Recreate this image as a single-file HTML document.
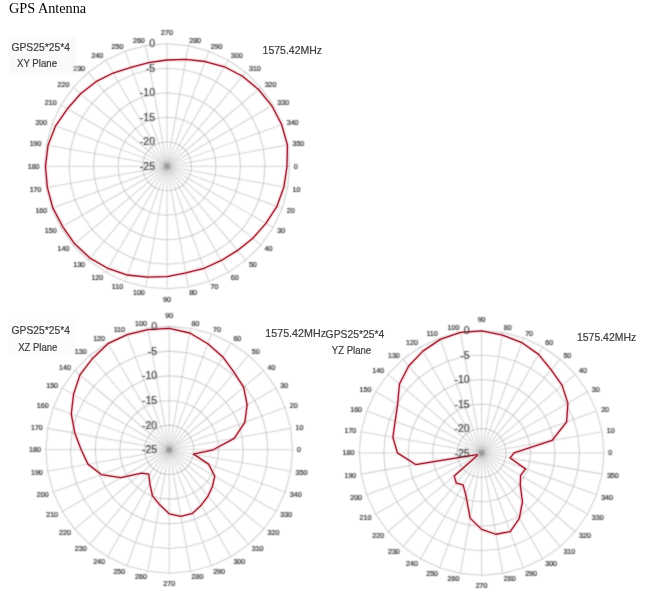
<!DOCTYPE html>
<html><head><meta charset="utf-8"><title>GPS Antenna</title>
<style>
html,body{margin:0;padding:0;background:#fff;}
body{width:659px;height:592px;overflow:hidden;position:relative;}
svg{position:absolute;left:0;top:0;}
.sp{stroke:#000;stroke-opacity:0.18;stroke-width:1.05;fill:none;}
.cl{font-family:"Liberation Sans",sans-serif;font-size:7.1px;fill:#141414;text-anchor:middle;stroke:#141414;stroke-width:0.15;}
.vl{font-family:"Liberation Sans",sans-serif;font-size:10.5px;fill:#383838;text-anchor:end;stroke:#383838;stroke-width:0.15;}
.tt{font-family:"Liberation Sans",sans-serif;font-size:10.4px;fill:#3c3c3c;stroke:#3c3c3c;stroke-width:0.2;}
.title{font-family:"Liberation Serif",serif;font-size:14px;fill:#000;}
</style></head><body>
<svg width="659" height="592" viewBox="0 0 659 592">
<defs><radialGradient id="cg"><stop offset="0" stop-color="#7a7a7a"/><stop offset="0.45" stop-color="#9a9a9a" stop-opacity="0.8"/><stop offset="1" stop-color="#c0c0c0" stop-opacity="0"/></radialGradient><filter id="bl" filterUnits="userSpaceOnUse" x="0" y="0" width="659" height="592"><feConvolveMatrix order="3" kernelMatrix="1 3 1 3 9 3 1 3 1" divisor="25" edgeMode="none" preserveAlpha="false"/></filter></defs>
<text x="9.0" y="13.1" textLength="77.2" lengthAdjust="spacingAndGlyphs" class="title">GPS Antenna</text>
<g filter="url(#bl)">
<rect x="9" y="37" width="67" height="38" fill="#fafafa"/>
<rect x="9" y="319" width="67" height="36" fill="#fcfcfc"/>
<polygon points="191.50,166.30 191.13,170.55 190.02,174.68 188.22,178.55 185.77,182.05 182.75,185.07 179.25,187.52 175.38,189.32 171.25,190.43 167.00,190.80 162.75,190.43 158.62,189.32 154.75,187.52 151.25,185.07 148.23,182.05 145.78,178.55 143.98,174.68 142.87,170.55 142.50,166.30 142.87,162.05 143.98,157.92 145.78,154.05 148.23,150.55 151.25,147.53 154.75,145.08 158.62,143.28 162.75,142.17 167.00,141.80 171.25,142.17 175.38,143.28 179.25,145.08 182.75,147.53 185.77,150.55 188.22,154.05 190.02,157.92 191.13,162.05" fill="none" stroke="#d0d0d0" stroke-width="1.1"/>
<polygon points="216.00,166.30 215.26,174.81 213.04,183.06 209.44,190.80 204.54,197.80 198.50,203.84 191.50,208.74 183.76,212.34 175.51,214.56 167.00,215.30 158.49,214.56 150.24,212.34 142.50,208.74 135.50,203.84 129.46,197.80 124.56,190.80 120.96,183.06 118.74,174.81 118.00,166.30 118.74,157.79 120.96,149.54 124.56,141.80 129.46,134.80 135.50,128.76 142.50,123.86 150.24,120.26 158.49,118.04 167.00,117.30 175.51,118.04 183.76,120.26 191.50,123.86 198.50,128.76 204.54,134.80 209.44,141.80 213.04,149.54 215.26,157.79" fill="none" stroke="#d0d0d0" stroke-width="1.1"/>
<polygon points="240.50,166.30 239.38,179.06 236.07,191.44 230.65,203.05 223.30,213.54 214.24,222.60 203.75,229.95 192.14,235.37 179.76,238.68 167.00,239.80 154.24,238.68 141.86,235.37 130.25,229.95 119.76,222.60 110.70,213.54 103.35,203.05 97.93,191.44 94.62,179.06 93.50,166.30 94.62,153.54 97.93,141.16 103.35,129.55 110.70,119.06 119.76,110.00 130.25,102.65 141.86,97.23 154.24,93.92 167.00,92.80 179.76,93.92 192.14,97.23 203.75,102.65 214.24,110.00 223.30,119.06 230.65,129.55 236.07,141.16 239.38,153.54" fill="none" stroke="#d0d0d0" stroke-width="1.1"/>
<polygon points="265.00,166.30 263.51,183.32 259.09,199.82 251.87,215.30 242.07,229.29 229.99,241.37 216.00,251.17 200.52,258.39 184.02,262.81 167.00,264.30 149.98,262.81 133.48,258.39 118.00,251.17 104.01,241.37 91.93,229.29 82.13,215.30 74.91,199.82 70.49,183.32 69.00,166.30 70.49,149.28 74.91,132.78 82.13,117.30 91.93,103.31 104.01,91.23 118.00,81.43 133.48,74.21 149.98,69.79 167.00,68.30 184.02,69.79 200.52,74.21 216.00,81.43 229.99,91.23 242.07,103.31 251.87,117.30 259.09,132.78 263.51,149.28" fill="none" stroke="#d0d0d0" stroke-width="1.1"/>
<polygon points="289.50,166.30 287.64,187.57 282.11,208.20 273.09,227.55 260.84,245.04 245.74,260.14 228.25,272.39 208.90,281.41 188.27,286.94 167.00,288.80 145.73,286.94 125.10,281.41 105.75,272.39 88.26,260.14 73.16,245.04 60.91,227.55 51.89,208.20 46.36,187.57 44.50,166.30 46.36,145.03 51.89,124.40 60.91,105.05 73.16,87.56 88.26,72.46 105.75,60.21 125.10,51.19 145.73,45.66 167.00,43.80 188.27,45.66 208.90,51.19 228.25,60.21 245.74,72.46 260.84,87.56 273.09,105.05 282.11,124.40 287.64,145.03" fill="none" stroke="#d0d0d0" stroke-width="1.1"/>
<path d="M169.00 166.30L289.50 166.30" class="sp"/>
<path d="M168.97 166.65L287.64 187.57" class="sp"/>
<path d="M168.88 166.98L282.11 208.20" class="sp"/>
<path d="M168.73 167.30L273.09 227.55" class="sp"/>
<path d="M168.53 167.59L260.84 245.04" class="sp"/>
<path d="M168.29 167.83L245.74 260.14" class="sp"/>
<path d="M168.00 168.03L228.25 272.39" class="sp"/>
<path d="M167.68 168.18L208.90 281.41" class="sp"/>
<path d="M167.35 168.27L188.27 286.94" class="sp"/>
<path d="M167.00 168.30L167.00 288.80" class="sp"/>
<path d="M166.65 168.27L145.73 286.94" class="sp"/>
<path d="M166.32 168.18L125.10 281.41" class="sp"/>
<path d="M166.00 168.03L105.75 272.39" class="sp"/>
<path d="M165.71 167.83L88.26 260.14" class="sp"/>
<path d="M165.47 167.59L73.16 245.04" class="sp"/>
<path d="M165.27 167.30L60.91 227.55" class="sp"/>
<path d="M165.12 166.98L51.89 208.20" class="sp"/>
<path d="M165.03 166.65L46.36 187.57" class="sp"/>
<path d="M165.00 166.30L44.50 166.30" class="sp"/>
<path d="M165.03 165.95L46.36 145.03" class="sp"/>
<path d="M165.12 165.62L51.89 124.40" class="sp"/>
<path d="M165.27 165.30L60.91 105.05" class="sp"/>
<path d="M165.47 165.01L73.16 87.56" class="sp"/>
<path d="M165.71 164.77L88.26 72.46" class="sp"/>
<path d="M166.00 164.57L105.75 60.21" class="sp"/>
<path d="M166.32 164.42L125.10 51.19" class="sp"/>
<path d="M166.65 164.33L145.73 45.66" class="sp"/>
<path d="M167.00 164.30L167.00 43.80" class="sp"/>
<path d="M167.35 164.33L188.27 45.66" class="sp"/>
<path d="M167.68 164.42L208.90 51.19" class="sp"/>
<path d="M168.00 164.57L228.25 60.21" class="sp"/>
<path d="M168.29 164.77L245.74 72.46" class="sp"/>
<path d="M168.53 165.01L260.84 87.56" class="sp"/>
<path d="M168.73 165.30L273.09 105.05" class="sp"/>
<path d="M168.88 165.62L282.11 124.40" class="sp"/>
<path d="M168.97 165.95L287.64 145.03" class="sp"/>
<circle cx="167.00" cy="166.30" r="4.5" fill="url(#cg)"/>
<text x="295.85" y="168.55" class="cl">0</text>
<text x="296.42" y="191.66" class="cl">10</text>
<text x="290.67" y="213.11" class="cl">20</text>
<text x="281.29" y="233.23" class="cl">30</text>
<text x="268.56" y="251.41" class="cl">40</text>
<text x="252.86" y="267.11" class="cl">50</text>
<text x="234.68" y="279.84" class="cl">60</text>
<text x="214.56" y="289.22" class="cl">70</text>
<text x="193.11" y="294.97" class="cl">80</text>
<text x="167.00" y="302.00" class="cl">90</text>
<text x="138.89" y="294.97" class="cl">100</text>
<text x="117.44" y="289.22" class="cl">110</text>
<text x="97.33" y="279.84" class="cl">120</text>
<text x="79.14" y="267.11" class="cl">130</text>
<text x="63.44" y="251.41" class="cl">140</text>
<text x="50.71" y="233.23" class="cl">150</text>
<text x="41.33" y="213.11" class="cl">160</text>
<text x="35.58" y="191.66" class="cl">170</text>
<text x="33.65" y="168.55" class="cl">180</text>
<text x="35.58" y="146.44" class="cl">190</text>
<text x="41.33" y="124.99" class="cl">200</text>
<text x="50.71" y="104.88" class="cl">210</text>
<text x="63.44" y="86.69" class="cl">220</text>
<text x="79.14" y="70.99" class="cl">230</text>
<text x="97.32" y="58.26" class="cl">240</text>
<text x="117.44" y="48.88" class="cl">250</text>
<text x="138.89" y="43.13" class="cl">260</text>
<text x="167.00" y="35.10" class="cl">270</text>
<text x="195.11" y="43.13" class="cl">280</text>
<text x="216.56" y="48.88" class="cl">290</text>
<text x="236.68" y="58.26" class="cl">300</text>
<text x="254.86" y="70.99" class="cl">310</text>
<text x="270.56" y="86.69" class="cl">320</text>
<text x="283.29" y="104.87" class="cl">330</text>
<text x="292.67" y="124.99" class="cl">340</text>
<text x="298.42" y="146.44" class="cl">350</text>
<polygon points="287.00,166.30 283.90,186.91 276.94,206.32 265.90,223.40 252.80,238.29 237.58,250.41 221.35,260.44 204.11,268.26 185.81,272.95 167.00,276.60 147.46,277.09 127.43,275.02 108.00,268.49 89.99,258.07 74.69,243.76 62.64,226.55 52.83,207.86 47.35,187.40 45.50,166.30 48.04,145.32 55.65,125.77 67.41,108.80 80.59,93.79 95.97,81.65 113.15,73.03 131.02,67.44 148.71,62.60 167.00,60.00 185.84,59.45 205.14,61.52 224.45,66.79 242.53,76.29 258.54,89.49 271.79,105.80 281.64,124.57 287.44,145.06" fill="none" stroke="#ec8e9a" stroke-width="3.0" stroke-linejoin="round" opacity="0.55"/>
</g>
<polygon points="287.00,166.30 283.90,186.91 276.94,206.32 265.90,223.40 252.80,238.29 237.58,250.41 221.35,260.44 204.11,268.26 185.81,272.95 167.00,276.60 147.46,277.09 127.43,275.02 108.00,268.49 89.99,258.07 74.69,243.76 62.64,226.55 52.83,207.86 47.35,187.40 45.50,166.30 48.04,145.32 55.65,125.77 67.41,108.80 80.59,93.79 95.97,81.65 113.15,73.03 131.02,67.44 148.71,62.60 167.00,60.00 185.84,59.45 205.14,61.52 224.45,66.79 242.53,76.29 258.54,89.49 271.79,105.80 281.64,124.57 287.44,145.06" fill="none" stroke="#9c2636" stroke-width="1.3" stroke-linejoin="round"/>
<g filter="url(#bl)">
<text x="155.00" y="169.90" class="vl">-25</text>
<text x="155.00" y="145.40" class="vl">-20</text>
<text x="155.00" y="120.90" class="vl">-15</text>
<text x="155.00" y="96.40" class="vl">-10</text>
<text x="155.00" y="71.90" class="vl">-5</text>
<text x="155.00" y="47.40" class="vl">0</text>
<polygon points="193.88,449.80 193.51,445.51 192.39,441.36 190.57,437.46 188.11,433.94 185.06,430.89 181.54,428.43 177.64,426.61 173.49,425.49 169.20,425.12 164.91,425.49 160.76,426.61 156.86,428.43 153.34,430.89 150.29,433.94 147.83,437.46 146.01,441.36 144.89,445.51 144.52,449.80 144.89,454.09 146.01,458.24 147.83,462.14 150.29,465.66 153.34,468.71 156.86,471.17 160.76,472.99 164.91,474.11 169.20,474.48 173.49,474.11 177.64,472.99 181.54,471.17 185.06,468.71 188.11,465.66 190.57,462.14 192.39,458.24 193.51,454.09" fill="none" stroke="#d0d0d0" stroke-width="1.1"/>
<polygon points="218.56,449.80 217.81,441.23 215.58,432.92 211.95,425.12 207.01,418.07 200.93,411.99 193.88,407.05 186.08,403.42 177.77,401.19 169.20,400.44 160.63,401.19 152.32,403.42 144.52,407.05 137.47,411.99 131.39,418.07 126.45,425.12 122.82,432.92 120.59,441.23 119.84,449.80 120.59,458.37 122.82,466.68 126.45,474.48 131.39,481.53 137.47,487.61 144.52,492.55 152.32,496.18 160.63,498.41 169.20,499.16 177.77,498.41 186.08,496.18 193.88,492.55 200.93,487.61 207.01,481.53 211.95,474.48 215.58,466.68 217.81,458.37" fill="none" stroke="#d0d0d0" stroke-width="1.1"/>
<polygon points="243.24,449.80 242.12,436.94 238.77,424.48 233.32,412.78 225.92,402.21 216.79,393.08 206.22,385.68 194.52,380.23 182.06,376.88 169.20,375.76 156.34,376.88 143.88,380.23 132.18,385.68 121.61,393.08 112.48,402.21 105.08,412.78 99.63,424.48 96.28,436.94 95.16,449.80 96.28,462.66 99.63,475.12 105.08,486.82 112.48,497.39 121.61,506.52 132.18,513.92 143.88,519.37 156.34,522.72 169.20,523.84 182.06,522.72 194.52,519.37 206.22,513.92 216.79,506.52 225.92,497.39 233.32,486.82 238.77,475.12 242.12,462.66" fill="none" stroke="#d0d0d0" stroke-width="1.1"/>
<polygon points="267.92,449.80 266.42,432.66 261.97,416.04 254.69,400.44 244.82,386.34 232.66,374.18 218.56,364.31 202.96,357.03 186.34,352.58 169.20,351.08 152.06,352.58 135.44,357.03 119.84,364.31 105.74,374.18 93.58,386.34 83.71,400.44 76.43,416.04 71.98,432.66 70.48,449.80 71.98,466.94 76.43,483.56 83.71,499.16 93.58,513.26 105.74,525.42 119.84,535.29 135.44,542.57 152.06,547.02 169.20,548.52 186.34,547.02 202.96,542.57 218.56,535.29 232.66,525.42 244.82,513.26 254.69,499.16 261.97,483.56 266.42,466.94" fill="none" stroke="#d0d0d0" stroke-width="1.1"/>
<polygon points="292.60,449.80 290.73,428.37 285.16,407.59 276.07,388.10 263.73,370.48 248.52,355.27 230.90,342.93 211.41,333.84 190.63,328.27 169.20,326.40 147.77,328.27 126.99,333.84 107.50,342.93 89.88,355.27 74.67,370.48 62.33,388.10 53.24,407.59 47.67,428.37 45.80,449.80 47.67,471.23 53.24,492.01 62.33,511.50 74.67,529.12 89.88,544.33 107.50,556.67 126.99,565.76 147.77,571.33 169.20,573.20 190.63,571.33 211.41,565.76 230.90,556.67 248.52,544.33 263.73,529.12 276.07,511.50 285.16,492.01 290.73,471.23" fill="none" stroke="#d0d0d0" stroke-width="1.1"/>
<path d="M171.20 449.80L292.60 449.80" class="sp"/>
<path d="M171.17 449.45L290.73 428.37" class="sp"/>
<path d="M171.08 449.12L285.16 407.59" class="sp"/>
<path d="M170.93 448.80L276.07 388.10" class="sp"/>
<path d="M170.73 448.51L263.73 370.48" class="sp"/>
<path d="M170.49 448.27L248.52 355.27" class="sp"/>
<path d="M170.20 448.07L230.90 342.93" class="sp"/>
<path d="M169.88 447.92L211.41 333.84" class="sp"/>
<path d="M169.55 447.83L190.63 328.27" class="sp"/>
<path d="M169.20 447.80L169.20 326.40" class="sp"/>
<path d="M168.85 447.83L147.77 328.27" class="sp"/>
<path d="M168.52 447.92L126.99 333.84" class="sp"/>
<path d="M168.20 448.07L107.50 342.93" class="sp"/>
<path d="M167.91 448.27L89.88 355.27" class="sp"/>
<path d="M167.67 448.51L74.67 370.48" class="sp"/>
<path d="M167.47 448.80L62.33 388.10" class="sp"/>
<path d="M167.32 449.12L53.24 407.59" class="sp"/>
<path d="M167.23 449.45L47.67 428.37" class="sp"/>
<path d="M167.20 449.80L45.80 449.80" class="sp"/>
<path d="M167.23 450.15L47.67 471.23" class="sp"/>
<path d="M167.32 450.48L53.24 492.01" class="sp"/>
<path d="M167.47 450.80L62.33 511.50" class="sp"/>
<path d="M167.67 451.09L74.67 529.12" class="sp"/>
<path d="M167.91 451.33L89.88 544.33" class="sp"/>
<path d="M168.20 451.53L107.50 556.67" class="sp"/>
<path d="M168.52 451.68L126.99 565.76" class="sp"/>
<path d="M168.85 451.77L147.77 571.33" class="sp"/>
<path d="M169.20 451.80L169.20 573.20" class="sp"/>
<path d="M169.55 451.77L190.63 571.33" class="sp"/>
<path d="M169.88 451.68L211.41 565.76" class="sp"/>
<path d="M170.20 451.53L230.90 556.67" class="sp"/>
<path d="M170.49 451.33L248.52 544.33" class="sp"/>
<path d="M170.73 451.09L263.73 529.12" class="sp"/>
<path d="M170.93 450.80L276.07 511.50" class="sp"/>
<path d="M171.08 450.48L285.16 492.01" class="sp"/>
<path d="M171.17 450.15L290.73 471.23" class="sp"/>
<circle cx="169.20" cy="449.80" r="4.5" fill="url(#cg)"/>
<text x="298.95" y="452.05" class="cl">0</text>
<text x="299.50" y="429.78" class="cl">10</text>
<text x="293.72" y="408.19" class="cl">20</text>
<text x="284.27" y="387.93" class="cl">30</text>
<text x="271.45" y="369.61" class="cl">40</text>
<text x="255.64" y="353.80" class="cl">50</text>
<text x="237.33" y="340.98" class="cl">60</text>
<text x="217.06" y="331.53" class="cl">70</text>
<text x="195.47" y="325.75" class="cl">80</text>
<text x="169.20" y="317.70" class="cl">90</text>
<text x="140.93" y="325.75" class="cl">100</text>
<text x="119.34" y="331.53" class="cl">110</text>
<text x="99.08" y="340.98" class="cl">120</text>
<text x="80.76" y="353.80" class="cl">130</text>
<text x="64.95" y="369.61" class="cl">140</text>
<text x="52.13" y="387.93" class="cl">150</text>
<text x="42.68" y="408.19" class="cl">160</text>
<text x="36.90" y="429.78" class="cl">170</text>
<text x="34.95" y="452.05" class="cl">180</text>
<text x="36.90" y="475.32" class="cl">190</text>
<text x="42.68" y="496.91" class="cl">200</text>
<text x="52.13" y="517.17" class="cl">210</text>
<text x="64.95" y="535.49" class="cl">220</text>
<text x="80.76" y="551.30" class="cl">230</text>
<text x="99.07" y="564.12" class="cl">240</text>
<text x="119.34" y="573.57" class="cl">250</text>
<text x="140.93" y="579.35" class="cl">260</text>
<text x="169.20" y="586.40" class="cl">270</text>
<text x="197.47" y="579.35" class="cl">280</text>
<text x="219.06" y="573.57" class="cl">290</text>
<text x="239.33" y="564.12" class="cl">300</text>
<text x="257.64" y="551.30" class="cl">310</text>
<text x="273.45" y="535.49" class="cl">320</text>
<text x="286.27" y="517.18" class="cl">330</text>
<text x="295.72" y="496.91" class="cl">340</text>
<text x="301.50" y="475.32" class="cl">350</text>
<polygon points="213.20,449.80 234.20,438.34 244.85,422.27 247.14,404.80 243.66,387.32 234.12,372.43 222.80,356.96 207.81,343.71 189.79,333.00 169.20,328.30 148.01,329.65 127.30,334.69 107.95,343.71 92.52,358.41 79.96,374.92 73.50,394.55 71.28,414.16 74.86,433.16 81.20,449.80 87.95,464.13 101.26,474.53 120.96,477.65 141.39,473.13 148.76,474.16 149.80,483.40 152.44,495.84 159.55,504.56 169.20,513.80 180.94,516.37 192.35,513.42 201.20,505.23 208.02,496.07 212.56,486.18 214.67,476.05 208.57,464.13 193.52,454.09" fill="none" stroke="#ec8e9a" stroke-width="3.0" stroke-linejoin="round" opacity="0.55"/>
</g>
<polygon points="213.20,449.80 234.20,438.34 244.85,422.27 247.14,404.80 243.66,387.32 234.12,372.43 222.80,356.96 207.81,343.71 189.79,333.00 169.20,328.30 148.01,329.65 127.30,334.69 107.95,343.71 92.52,358.41 79.96,374.92 73.50,394.55 71.28,414.16 74.86,433.16 81.20,449.80 87.95,464.13 101.26,474.53 120.96,477.65 141.39,473.13 148.76,474.16 149.80,483.40 152.44,495.84 159.55,504.56 169.20,513.80 180.94,516.37 192.35,513.42 201.20,505.23 208.02,496.07 212.56,486.18 214.67,476.05 208.57,464.13 193.52,454.09" fill="none" stroke="#9c2636" stroke-width="1.3" stroke-linejoin="round"/>
<g filter="url(#bl)">
<text x="157.20" y="453.40" class="vl">-25</text>
<text x="157.20" y="428.72" class="vl">-20</text>
<text x="157.20" y="404.04" class="vl">-15</text>
<text x="157.20" y="379.36" class="vl">-10</text>
<text x="157.20" y="354.68" class="vl">-5</text>
<text x="157.20" y="330.00" class="vl">0</text>
<polygon points="506.06,452.90 505.69,448.65 504.58,444.53 502.78,440.67 500.34,437.18 497.32,434.16 493.83,431.72 489.97,429.92 485.85,428.81 481.60,428.44 477.35,428.81 473.23,429.92 469.37,431.72 465.88,434.16 462.86,437.18 460.42,440.67 458.62,444.53 457.51,448.65 457.14,452.90 457.51,457.15 458.62,461.27 460.42,465.13 462.86,468.62 465.88,471.64 469.37,474.08 473.23,475.88 477.35,476.99 481.60,477.36 485.85,476.99 489.97,475.88 493.83,474.08 497.32,471.64 500.34,468.62 502.78,465.13 504.58,461.27 505.69,457.15" fill="none" stroke="#d0d0d0" stroke-width="1.1"/>
<polygon points="530.52,452.90 529.78,444.41 527.57,436.17 523.97,428.44 519.07,421.45 513.05,415.43 506.06,410.53 498.33,406.93 490.09,404.72 481.60,403.98 473.11,404.72 464.87,406.93 457.14,410.53 450.15,415.43 444.13,421.45 439.23,428.44 435.63,436.17 433.42,444.41 432.68,452.90 433.42,461.39 435.63,469.63 439.23,477.36 444.13,484.35 450.15,490.37 457.14,495.27 464.87,498.87 473.11,501.08 481.60,501.82 490.09,501.08 498.33,498.87 506.06,495.27 513.05,490.37 519.07,484.35 523.97,477.36 527.57,469.63 529.78,461.39" fill="none" stroke="#d0d0d0" stroke-width="1.1"/>
<polygon points="554.98,452.90 553.87,440.16 550.55,427.80 545.15,416.21 537.81,405.73 528.77,396.69 518.29,389.35 506.70,383.95 494.34,380.63 481.60,379.52 468.86,380.63 456.50,383.95 444.91,389.35 434.43,396.69 425.39,405.73 418.05,416.21 412.65,427.80 409.33,440.16 408.22,452.90 409.33,465.64 412.65,478.00 418.05,489.59 425.39,500.07 434.43,509.11 444.91,516.45 456.50,521.85 468.86,525.17 481.60,526.28 494.34,525.17 506.70,521.85 518.29,516.45 528.77,509.11 537.81,500.07 545.15,489.59 550.55,478.00 553.87,465.64" fill="none" stroke="#d0d0d0" stroke-width="1.1"/>
<polygon points="579.44,452.90 577.95,435.91 573.54,419.44 566.33,403.98 556.55,390.01 544.49,377.95 530.52,368.17 515.06,360.96 498.59,356.55 481.60,355.06 464.61,356.55 448.14,360.96 432.68,368.17 418.71,377.95 406.65,390.01 396.87,403.98 389.66,419.44 385.25,435.91 383.76,452.90 385.25,469.89 389.66,486.36 396.87,501.82 406.65,515.79 418.71,527.85 432.68,537.63 448.14,544.84 464.61,549.25 481.60,550.74 498.59,549.25 515.06,544.84 530.52,537.63 544.49,527.85 556.55,515.79 566.33,501.82 573.54,486.36 577.95,469.89" fill="none" stroke="#d0d0d0" stroke-width="1.1"/>
<polygon points="603.90,452.90 602.04,431.66 596.52,411.07 587.51,391.75 575.29,374.29 560.21,359.21 542.75,346.99 523.43,337.98 502.84,332.46 481.60,330.60 460.36,332.46 439.77,337.98 420.45,346.99 402.99,359.21 387.91,374.29 375.69,391.75 366.68,411.07 361.16,431.66 359.30,452.90 361.16,474.14 366.68,494.73 375.69,514.05 387.91,531.51 402.99,546.59 420.45,558.81 439.77,567.82 460.36,573.34 481.60,575.20 502.84,573.34 523.43,567.82 542.75,558.81 560.21,546.59 575.29,531.51 587.51,514.05 596.52,494.73 602.04,474.14" fill="none" stroke="#d0d0d0" stroke-width="1.1"/>
<path d="M483.60 452.90L603.90 452.90" class="sp"/>
<path d="M483.57 452.55L602.04 431.66" class="sp"/>
<path d="M483.48 452.22L596.52 411.07" class="sp"/>
<path d="M483.33 451.90L587.51 391.75" class="sp"/>
<path d="M483.13 451.61L575.29 374.29" class="sp"/>
<path d="M482.89 451.37L560.21 359.21" class="sp"/>
<path d="M482.60 451.17L542.75 346.99" class="sp"/>
<path d="M482.28 451.02L523.43 337.98" class="sp"/>
<path d="M481.95 450.93L502.84 332.46" class="sp"/>
<path d="M481.60 450.90L481.60 330.60" class="sp"/>
<path d="M481.25 450.93L460.36 332.46" class="sp"/>
<path d="M480.92 451.02L439.77 337.98" class="sp"/>
<path d="M480.60 451.17L420.45 346.99" class="sp"/>
<path d="M480.31 451.37L402.99 359.21" class="sp"/>
<path d="M480.07 451.61L387.91 374.29" class="sp"/>
<path d="M479.87 451.90L375.69 391.75" class="sp"/>
<path d="M479.72 452.22L366.68 411.07" class="sp"/>
<path d="M479.63 452.55L361.16 431.66" class="sp"/>
<path d="M479.60 452.90L359.30 452.90" class="sp"/>
<path d="M479.63 453.25L361.16 474.14" class="sp"/>
<path d="M479.72 453.58L366.68 494.73" class="sp"/>
<path d="M479.87 453.90L375.69 514.05" class="sp"/>
<path d="M480.07 454.19L387.91 531.51" class="sp"/>
<path d="M480.31 454.43L402.99 546.59" class="sp"/>
<path d="M480.60 454.63L420.45 558.81" class="sp"/>
<path d="M480.92 454.78L439.77 567.82" class="sp"/>
<path d="M481.25 454.87L460.36 573.34" class="sp"/>
<path d="M481.60 454.90L481.60 575.20" class="sp"/>
<path d="M481.95 454.87L502.84 573.34" class="sp"/>
<path d="M482.28 454.78L523.43 567.82" class="sp"/>
<path d="M482.60 454.63L542.75 558.81" class="sp"/>
<path d="M482.89 454.43L560.21 546.59" class="sp"/>
<path d="M483.13 454.19L575.29 531.51" class="sp"/>
<path d="M483.33 453.90L587.51 514.05" class="sp"/>
<path d="M483.48 453.58L596.52 494.73" class="sp"/>
<path d="M483.57 453.25L602.04 474.14" class="sp"/>
<circle cx="481.60" cy="452.90" r="4.5" fill="url(#cg)"/>
<text x="610.25" y="455.15" class="cl">0</text>
<text x="610.82" y="433.07" class="cl">10</text>
<text x="605.08" y="411.66" class="cl">20</text>
<text x="595.72" y="391.57" class="cl">30</text>
<text x="583.00" y="373.42" class="cl">40</text>
<text x="567.33" y="357.75" class="cl">50</text>
<text x="549.17" y="345.03" class="cl">60</text>
<text x="529.09" y="335.67" class="cl">70</text>
<text x="507.68" y="329.93" class="cl">80</text>
<text x="481.60" y="321.90" class="cl">90</text>
<text x="453.52" y="329.93" class="cl">100</text>
<text x="432.11" y="335.67" class="cl">110</text>
<text x="412.03" y="345.03" class="cl">120</text>
<text x="393.87" y="357.75" class="cl">130</text>
<text x="378.20" y="373.42" class="cl">140</text>
<text x="365.48" y="391.57" class="cl">150</text>
<text x="356.12" y="411.66" class="cl">160</text>
<text x="350.38" y="433.07" class="cl">170</text>
<text x="348.45" y="455.15" class="cl">180</text>
<text x="350.38" y="478.23" class="cl">190</text>
<text x="356.12" y="499.64" class="cl">200</text>
<text x="365.48" y="519.72" class="cl">210</text>
<text x="378.20" y="537.88" class="cl">220</text>
<text x="393.87" y="553.55" class="cl">230</text>
<text x="412.02" y="566.27" class="cl">240</text>
<text x="432.11" y="575.63" class="cl">250</text>
<text x="453.52" y="581.37" class="cl">260</text>
<text x="481.60" y="588.40" class="cl">270</text>
<text x="509.68" y="581.37" class="cl">280</text>
<text x="531.09" y="575.63" class="cl">290</text>
<text x="551.17" y="566.27" class="cl">300</text>
<text x="569.33" y="553.55" class="cl">310</text>
<text x="585.00" y="537.88" class="cl">320</text>
<text x="597.72" y="519.73" class="cl">330</text>
<text x="607.08" y="499.64" class="cl">340</text>
<text x="612.82" y="478.23" class="cl">350</text>
<polygon points="514.10,452.90 552.01,440.48 566.64,421.95 567.86,403.10 562.11,385.34 551.21,369.94 538.50,354.35 521.75,342.58 502.39,335.02 481.60,330.90 460.36,332.46 440.28,339.39 422.85,351.14 408.71,366.03 399.48,383.99 397.60,404.40 395.15,421.43 392.87,437.25 397.40,452.90 415.72,464.52 476.90,454.61 477.27,455.40 454.18,475.91 456.27,483.08 463.10,484.94 466.00,495.75 470.10,518.09 481.60,529.40 495.94,534.25 510.23,531.55 519.35,518.28 522.42,501.54 520.29,485.36 520.57,475.40 525.48,468.87 510.16,457.94" fill="none" stroke="#ec8e9a" stroke-width="3.0" stroke-linejoin="round" opacity="0.55"/>
</g>
<polygon points="514.10,452.90 552.01,440.48 566.64,421.95 567.86,403.10 562.11,385.34 551.21,369.94 538.50,354.35 521.75,342.58 502.39,335.02 481.60,330.90 460.36,332.46 440.28,339.39 422.85,351.14 408.71,366.03 399.48,383.99 397.60,404.40 395.15,421.43 392.87,437.25 397.40,452.90 415.72,464.52 476.90,454.61 477.27,455.40 454.18,475.91 456.27,483.08 463.10,484.94 466.00,495.75 470.10,518.09 481.60,529.40 495.94,534.25 510.23,531.55 519.35,518.28 522.42,501.54 520.29,485.36 520.57,475.40 525.48,468.87 510.16,457.94" fill="none" stroke="#9c2636" stroke-width="1.3" stroke-linejoin="round"/>
<g filter="url(#bl)">
<text x="469.60" y="456.50" class="vl">-25</text>
<text x="469.60" y="432.04" class="vl">-20</text>
<text x="469.60" y="407.58" class="vl">-15</text>
<text x="469.60" y="383.12" class="vl">-10</text>
<text x="469.60" y="358.66" class="vl">-5</text>
<text x="469.60" y="334.20" class="vl">0</text>
</g>
<text x="11.4" y="51.3" textLength="58.6" lengthAdjust="spacingAndGlyphs" class="tt">GPS25*25*4</text>
<text x="17.0" y="66.9" textLength="40.0" lengthAdjust="spacingAndGlyphs" class="tt">XY Plane</text>
<text x="262.6" y="54.3" textLength="59.4" lengthAdjust="spacingAndGlyphs" class="tt">1575.42MHz</text>
<text x="11.6" y="334.2" textLength="58.4" lengthAdjust="spacingAndGlyphs" class="tt">GPS25*25*4</text>
<text x="18.2" y="350.5" textLength="39.2" lengthAdjust="spacingAndGlyphs" class="tt">XZ Plane</text>
<text x="265.3" y="336.9" textLength="60.7" lengthAdjust="spacingAndGlyphs" class="tt">1575.42MHz</text>
<text x="325.6" y="338.1" textLength="58.7" lengthAdjust="spacingAndGlyphs" class="tt">GPS25*25*4</text>
<text x="331.8" y="353.7" textLength="39.4" lengthAdjust="spacingAndGlyphs" class="tt">YZ Plane</text>
<text x="577.0" y="340.9" textLength="59.2" lengthAdjust="spacingAndGlyphs" class="tt">1575.42MHz</text>
</svg>
</body></html>
